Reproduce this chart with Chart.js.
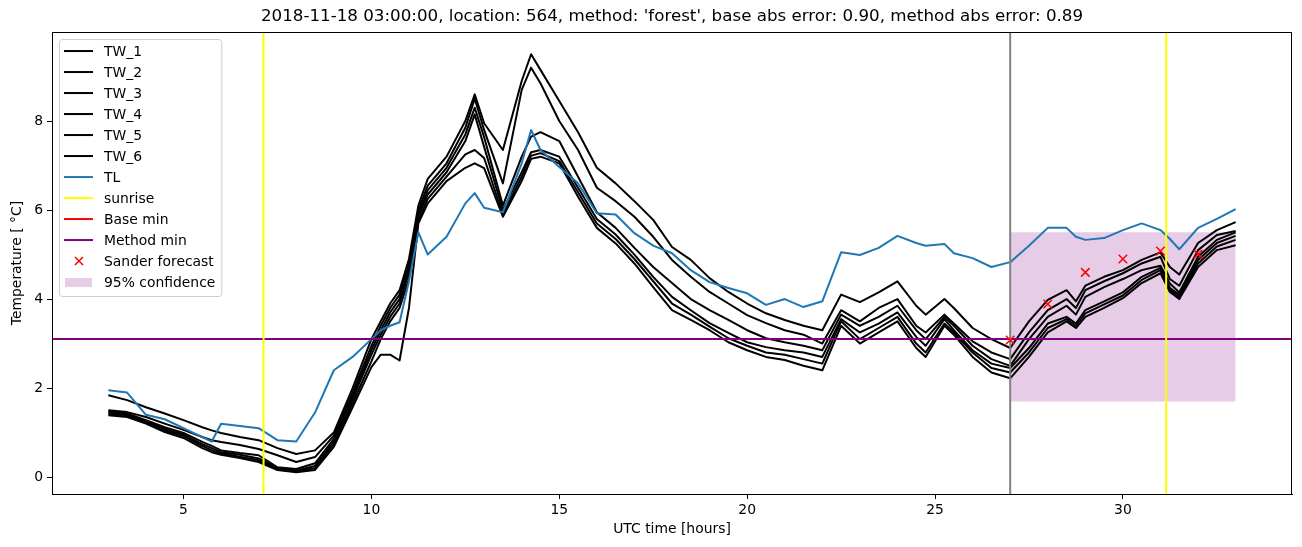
<!DOCTYPE html>
<html>
<head>
<meta charset="utf-8">
<script src="https://cdn.jsdelivr.net/npm/chart.js@4.4.1/dist/chart.umd.min.js"></script>
<style>
  html, body { margin: 0; padding: 0; background: #fff; }
</style>
</head>
<body>
<canvas id="plots" width="1302" height="547"></canvas>
<script>
// sample times (UTC hours), shared by all the TW / TL series
const hours = [3, 3.5, 4, 4.5, 5, 5.5, 5.75, 6, 6.5, 7, 7.5, 8, 8.5, 9, 9.5, 10, 10.25, 10.5, 10.75, 11,
  11.25, 11.5, 12, 12.5, 12.75, 13, 13.5, 14, 14.25, 14.5, 15, 15.5, 16, 16.5, 17, 17.5, 18, 18.5, 19, 19.5,
  20, 20.5, 21, 21.5, 22, 22.5, 23, 23.5, 24, 24.5, 24.75, 25.25, 25.5, 26, 26.5, 27, 27.5, 28, 28.5, 28.75,
  29, 29.5, 30, 30.5, 31, 31.25, 31.5, 32, 32.5, 33]

const tw1 = [1.84, 1.73, 1.57, 1.43, 1.28, 1.12, 1.05, 0.99, 0.9, 0.83, 0.65, 0.52, 0.6, 1.0, 2.0, 3.1, 3.5, 3.9, 4.2, 4.9,
  6.1, 6.7, 7.2, 8.0, 8.6, 7.95, 7.35, 8.9, 9.5, 9.15, 8.45, 7.75, 6.95, 6.6, 6.2, 5.78, 5.17, 4.88, 4.47, 4.16,
  3.9, 3.68, 3.53, 3.4, 3.3, 4.1, 3.93, 4.15, 4.4, 3.85, 3.65, 4.0, 3.8, 3.35, 3.1, 2.9, 3.5, 3.98, 4.2, 3.95,
  4.3, 4.5, 4.65, 4.88, 5.05, 4.72, 4.55, 5.26, 5.55, 5.73]
const tw2 = [1.5, 1.46, 1.35, 1.2, 1.06, 0.9, 0.83, 0.79, 0.72, 0.63, 0.49, 0.34, 0.45, 0.93, 1.9, 2.95, 3.4, 3.8, 4.1, 4.8,
  6.0, 6.55, 7.05, 7.85, 8.5, 7.8, 6.6, 8.7, 9.2, 8.85, 8.0, 7.35, 6.5, 6.2, 5.85, 5.4, 4.88, 4.5, 4.16, 3.9,
  3.64, 3.46, 3.3, 3.2, 3.0, 3.75, 3.5, 3.8, 4.0, 3.4, 3.25, 3.65, 3.45, 3.05, 2.8, 2.65, 3.25, 3.75, 4.0, 3.8,
  4.2, 4.4, 4.58, 4.8, 4.95, 4.45, 4.3, 5.1, 5.44, 5.53]
const tw3 = [1.48, 1.43, 1.28, 1.12, 0.99, 0.79, 0.7, 0.6, 0.54, 0.49, 0.22, 0.18, 0.31, 0.86, 1.82, 2.85, 3.3, 3.7, 4.0, 4.7,
  5.9, 6.45, 6.95, 7.7, 8.3, 7.64, 6.1, 7.2, 7.65, 7.75, 7.55, 6.75, 5.95, 5.6, 5.15, 4.72, 4.36, 4.0, 3.75, 3.53,
  3.3, 3.12, 3.03, 2.95, 2.85, 3.65, 3.4, 3.6, 3.85, 3.3, 3.1, 3.6, 3.4, 2.95, 2.65, 2.5, 3.1, 3.6, 3.85, 3.65,
  4.05, 4.27, 4.45, 4.65, 4.75, 4.35, 4.15, 4.95, 5.33, 5.5]
const tw4 = [1.45, 1.4, 1.25, 1.08, 0.95, 0.74, 0.65, 0.56, 0.5, 0.42, 0.2, 0.15, 0.25, 0.8, 1.75, 2.75, 3.2, 3.6, 3.9, 4.6,
  5.85, 6.35, 6.85, 7.55, 8.15, 7.42, 6.0, 6.85, 7.3, 7.35, 7.2, 6.5, 5.8, 5.45, 5.0, 4.5, 4.05, 3.75, 3.46, 3.24,
  3.03, 2.92, 2.85, 2.8, 2.7, 3.55, 3.25, 3.45, 3.7, 3.15, 2.95, 3.55, 3.3, 2.85, 2.55, 2.45, 2.9, 3.45, 3.6, 3.45,
  3.75, 3.95, 4.15, 4.5, 4.7, 4.25, 4.1, 4.88, 5.26, 5.42]
const tw5 = [1.42, 1.37, 1.22, 1.04, 0.92, 0.7, 0.6, 0.53, 0.46, 0.38, 0.18, 0.13, 0.2, 0.74, 1.66, 2.6, 3.1, 3.5, 3.8, 4.45,
  5.75, 6.25, 6.75, 7.25, 7.35, 7.17, 5.9, 6.75, 7.22, 7.28, 7.1, 6.4, 5.7, 5.35, 4.9, 4.4, 3.9, 3.65, 3.38, 3.12,
  2.95, 2.8, 2.75, 2.65, 2.55, 3.5, 3.1, 3.35, 3.6, 3.0, 2.8, 3.45, 3.25, 2.8, 2.45, 2.35, 2.8, 3.35, 3.55, 3.4,
  3.68, 3.88, 4.08, 4.43, 4.65, 4.2, 4.05, 4.8, 5.18, 5.33]
const tw6 = [1.39, 1.35, 1.2, 1.01, 0.88, 0.65, 0.56, 0.5, 0.43, 0.34, 0.16, 0.11, 0.16, 0.68, 1.57, 2.47, 2.75, 2.75, 2.62, 3.8,
  5.7, 6.15, 6.65, 6.95, 7.05, 6.94, 5.85, 6.65, 7.15, 7.2, 7.05, 6.3, 5.6, 5.25, 4.8, 4.27, 3.75, 3.53, 3.3, 3.03,
  2.85, 2.7, 2.63, 2.5, 2.4, 3.4, 3.0, 3.25, 3.5, 2.9, 2.7, 3.4, 3.2, 2.7, 2.35, 2.22, 2.7, 3.25, 3.5, 3.35,
  3.6, 3.8, 4.02, 4.36, 4.58, 4.16, 4.0, 4.72, 5.1, 5.21]
const tl = [1.95, 1.9, 1.4, 1.3, 1.1, 0.9, 0.8, 1.2, 1.15, 1.1, 0.83, 0.8, 1.45, 2.4, 2.7, 3.1, 3.3, 3.4, 3.48, 4.4,
  5.5, 5.0, 5.4, 6.15, 6.38, 6.05, 5.95, 7.05, 7.8, 7.35, 6.97, 6.6, 5.93, 5.9, 5.48, 5.2, 5.03, 4.65, 4.38, 4.25,
  4.13, 3.87, 4.0, 3.82, 3.95, 5.05, 4.99, 5.15, 5.42, 5.26, 5.2, 5.24, 5.03, 4.92, 4.72, 4.83, 5.2, 5.6, 5.6, 5.4,
  5.33, 5.37, 5.55, 5.7, 5.55, 5.35, 5.12, 5.6, 5.8, 6.02]

const sunrise = [7.13, 31.15]
const forecastStart = 27
const baseMin = 3.1
const methodMin = 3.1
const sanderHours = [27, 28, 29, 30, 31, 32]
const sanderTemp = [3.08, 3.89, 4.6, 4.9, 5.08, 5.01]
const confHours = [27, 33]
const confLow = [1.7, 1.7]
const confHigh = [5.5, 5.5]

const xTicks = [5, 10, 15, 20, 25, 30]
const yTicks = [0, 2, 4, 6, 8]
const xRange = [1.5, 34.5]
const yRange = [-0.38, 10.0]

const titulo = "2018-11-18 03:00:00, location: 564, method: 'forest', base abs error: 0.90, method abs error: 0.89"

function pts(xs, ys) {
  return xs.map((x, i) => ({ x: x, y: ys[i] }))
}
function vlines(xs) {
  const out = []
  xs.forEach(x => {
    out.push({ x: x, y: yRange[0] }, { x: x, y: yRange[1] }, { x: x, y: null })
  })
  return out
}
function hline(v) {
  return [{ x: xRange[0], y: v }, { x: xRange[1], y: v }]
}

const fonte = { family: 'DejaVu Sans', size: 13.9, weight: 'normal' }

function linha(label, data, color, order) {
  return {
    label: label, data: data, borderColor: color, backgroundColor: color,
    borderWidth: 2, pointRadius: 0, tension: 0, fill: false,
    borderJoinStyle: 'round', order: order, legendKind: 'line'
  }
}

const twSeries = [tw1, tw2, tw3, tw4, tw5, tw6]
const datasets = []
twSeries.forEach((s, i) => datasets.push(linha('TW_' + (i + 1), pts(hours, s), '#000000', 6)))
datasets.push(linha('TL', pts(hours, tl), '#1f77b4', 5))
datasets.push(linha('sunrise', vlines(sunrise), '#ffff00', 2))
datasets.push(linha('Base min', hline(baseMin), '#ff0000', 4))
datasets.push(linha('Method min', hline(methodMin), '#800080', 3))
datasets.push({
  label: 'Sander forecast', data: pts(sanderHours, sanderTemp), showLine: false,
  pointStyle: 'crossRot', pointRadius: 6, borderColor: '#ff0000', backgroundColor: '#ff0000',
  pointBorderWidth: 1.5, order: 0, legendKind: 'cross'
})
// confidence band: lower edge then upper edge filled down to it
datasets.push({
  data: pts(confHours, confLow), borderWidth: 0, pointRadius: 0, fill: false, order: 9
})
datasets.push({
  label: '95% confidence', data: pts(confHours, confHigh), borderWidth: 0, pointRadius: 0,
  fill: '-1', backgroundColor: 'rgba(128,0,128,0.2)', borderColor: 'rgba(128,0,128,0.2)',
  order: 9, legendKind: 'patch'
})
// forecast start marker (not in legend)
const gray = linha(undefined, vlines([forecastStart]), '#808080', 1)
gray.legendKind = null
datasets.push(gray)

const moldura = {
  id: 'moldura',
  afterDatasetsDraw(chart) {
    const a = chart.chartArea
    const ctx = chart.ctx
    ctx.save()
    ctx.strokeStyle = '#000'
    ctx.lineWidth = 1
    ctx.strokeRect(Math.round(a.left) + 0.5, Math.round(a.top) + 0.5,
      Math.round(a.right - a.left) - 1, Math.round(a.bottom - a.top))
    ctx.restore()
  }
}

const legenda = {
  id: 'legenda',
  afterDraw(chart) {
    const ctx = chart.ctx
    const a = chart.chartArea
    const itens = chart.data.datasets.filter(d => d.label && d.legendKind)
    ctx.save()
    ctx.font = fonte.size + 'px ' + fonte.family
    let maxW = 0
    itens.forEach(d => { maxW = Math.max(maxW, ctx.measureText(d.label).width) })
    const x0 = a.left + 7, y0 = a.top + 7
    const rowH = 21
    const textX = x0 + 45
    const w = textX - x0 + maxW + 6
    const h = itens.length * rowH + 5
    ctx.beginPath()
    ctx.roundRect(x0 + 0.5, y0 + 0.5, w, h, 3)
    ctx.fillStyle = 'rgba(255,255,255,0.8)'
    ctx.fill()
    ctx.strokeStyle = '#cccccc'
    ctx.lineWidth = 1
    ctx.stroke()
    itens.forEach((d, i) => {
      const cy = y0 + 12 + i * rowH
      if (d.legendKind === 'line') {
        ctx.strokeStyle = d.borderColor
        ctx.lineWidth = 2
        ctx.beginPath()
        ctx.moveTo(x0 + 5, cy)
        ctx.lineTo(x0 + 34, cy)
        ctx.stroke()
      } else if (d.legendKind === 'cross') {
        ctx.strokeStyle = d.borderColor
        ctx.lineWidth = 1.5
        const cx = x0 + 20, r = 4
        ctx.beginPath()
        ctx.moveTo(cx - r, cy - r); ctx.lineTo(cx + r, cy + r)
        ctx.moveTo(cx - r, cy + r); ctx.lineTo(cx + r, cy - r)
        ctx.stroke()
      } else if (d.legendKind === 'patch') {
        ctx.fillStyle = d.backgroundColor
        ctx.fillRect(x0 + 6, cy - 4, 27, 9)
      }
      ctx.fillStyle = '#000'
      ctx.textBaseline = 'middle'
      ctx.fillText(d.label, textX, cy + 1)
    })
    ctx.restore()
  }
}

const plots = document.getElementById('plots')
const grafico = new Chart(plots, {
  type: 'line',
  data: { datasets: datasets },
  options: {
    responsive: false,
    animation: false,
    devicePixelRatio: 1,
    layout: { padding: { top: 0, right: 10, left: 0, bottom: 0 } },
    plugins: {
      legend: { display: false },
      tooltip: { enabled: false },
      title: {
        display: true, text: titulo, fullSize: false, color: '#000',
        font: { family: 'DejaVu Sans', size: 16.7, weight: 'normal' },
        padding: { top: 7, bottom: 5 }
      }
    },
    scales: {
      x: {
        type: 'linear', min: xRange[0], max: xRange[1],
        afterFit: s => { s.height = 53 },
        afterBuildTicks: s => { s.ticks = xTicks.map(v => ({ value: v })) },
        grid: { drawOnChartArea: false, tickLength: 5, color: '#000' },
        border: { color: '#000', width: 1 },
        ticks: { color: '#000', font: fonte, padding: 3, maxRotation: 0, autoSkip: false },
        title: { display: true, text: 'UTC time [hours]', color: '#000', font: fonte, padding: { top: 0, bottom: 9 } }
      },
      y: {
        type: 'linear', min: yRange[0], max: yRange[1],
        afterFit: s => { s.width = 52 },
        afterBuildTicks: s => { s.ticks = yTicks.map(v => ({ value: v })) },
        grid: { drawOnChartArea: false, tickLength: 5, color: '#000' },
        border: { color: '#000', width: 1 },
        ticks: { color: '#000', font: fonte, padding: 4, autoSkip: false },
        title: { display: true, text: 'Temperature [ °C]', color: '#000', font: fonte, padding: { top: 9, bottom: 0 } }
      }
    }
  },
  plugins: [moldura, legenda]
})
</script>
</body>
</html>
